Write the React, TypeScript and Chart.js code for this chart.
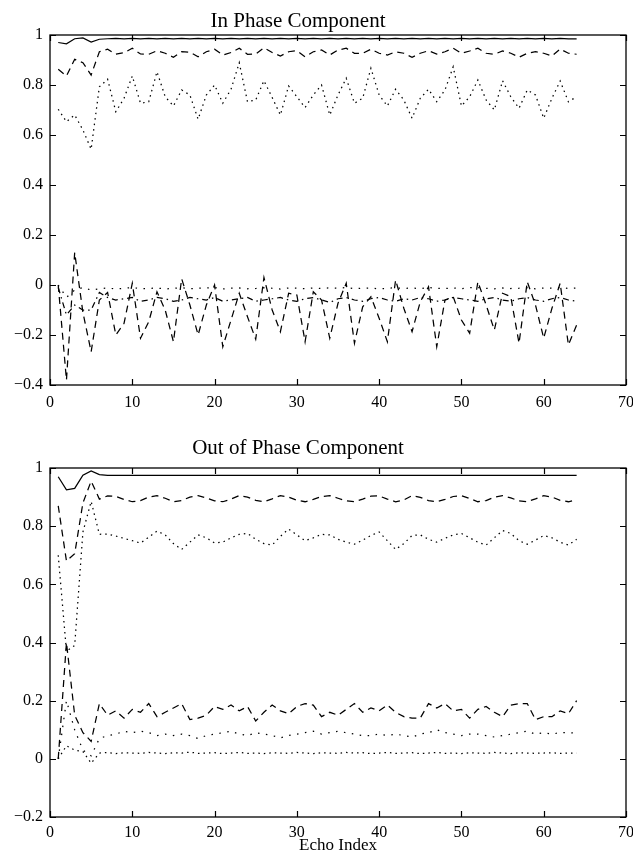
import React, { useEffect, useRef } from "react";
import { Chart, registerables } from "chart.js";

Chart.register(...registerables);

// ---------------- data ----------------
const echoIndex = [
  1, 2, 3, 4, 5, 6, 7, 8, 9, 10, 11, 12, 13, 14, 15, 16, 17, 18, 19, 20, 21, 22, 23, 24, 25, 26, 27, 28, 29, 30, 31, 32,
  33, 34, 35, 36, 37, 38, 39, 40, 41, 42, 43, 44, 45, 46, 47, 48, 49, 50, 51, 52, 53, 54, 55, 56, 57, 58, 59, 60, 61, 62, 63, 64,
];

const xTicks = { min: 0, max: 70, step: 10 };
const inPhaseYTicks = { min: -0.4, max: 1, step: 0.2 };
const outPhaseYTicks = { min: -0.2, max: 1, step: 0.2 };

// In phase component
const inSolid = [
  0.97, 0.965, 0.985, 0.988, 0.972, 0.983, 0.985, 0.986, 0.985, 0.986, 0.985, 0.986, 0.985, 0.986, 0.985, 0.986,
  0.985, 0.986, 0.985, 0.986, 0.985, 0.986, 0.985, 0.986, 0.985, 0.986, 0.985, 0.986, 0.985, 0.986, 0.985, 0.986,
  0.985, 0.986, 0.985, 0.986, 0.985, 0.986, 0.985, 0.986, 0.985, 0.986, 0.985, 0.986, 0.985, 0.986, 0.985, 0.986,
  0.985, 0.986, 0.985, 0.986, 0.985, 0.986, 0.985, 0.986, 0.985, 0.986, 0.985, 0.986, 0.985, 0.986, 0.985, 0.985,
];
const inDashed = [
  0.863, 0.836, 0.903, 0.889, 0.84, 0.933, 0.943, 0.923, 0.929, 0.947, 0.924, 0.923, 0.937, 0.927, 0.911, 0.933,
  0.931, 0.913, 0.933, 0.943, 0.92, 0.93, 0.947, 0.923, 0.924, 0.949, 0.93, 0.916, 0.933, 0.937, 0.913, 0.933,
  0.94, 0.92, 0.94, 0.947, 0.927, 0.927, 0.943, 0.927, 0.92, 0.933, 0.927, 0.911, 0.927, 0.937, 0.924, 0.933,
  0.947, 0.927, 0.936, 0.947, 0.927, 0.923, 0.936, 0.927, 0.911, 0.927, 0.933, 0.927, 0.916, 0.944, 0.927, 0.923,
];
const inDotted = [
  0.703, 0.653, 0.68, 0.62, 0.543, 0.793, 0.823, 0.693, 0.747, 0.836, 0.727, 0.733, 0.853, 0.753, 0.716, 0.78,
  0.76, 0.663, 0.76, 0.8, 0.727, 0.783, 0.889, 0.733, 0.74, 0.817, 0.75, 0.68, 0.796, 0.753, 0.71, 0.76,
  0.8, 0.68, 0.76, 0.827, 0.727, 0.747, 0.867, 0.76, 0.716, 0.783, 0.74, 0.667, 0.747, 0.783, 0.733, 0.78,
  0.873, 0.716, 0.753, 0.82, 0.74, 0.7, 0.817, 0.753, 0.707, 0.78, 0.76, 0.667, 0.747, 0.816, 0.733, 0.753,
];
const inLowDotted = [
  0.0, -0.05, -0.02, -0.01, -0.02, -0.015, -0.012, -0.016, -0.013, -0.01, -0.015, -0.014, -0.012, -0.016, -0.013, -0.011,
  -0.015, -0.013, -0.012, -0.01, -0.016, -0.013, -0.012, -0.015, -0.014, -0.011, -0.013, -0.016, -0.012, -0.013, -0.015, -0.012,
  -0.014, -0.011, -0.013, -0.01, -0.015, -0.013, -0.012, -0.016, -0.013, -0.011, -0.014, -0.012, -0.015, -0.01, -0.013, -0.014,
  -0.012, -0.015, -0.011, -0.01, -0.013, -0.015, -0.012, -0.014, -0.013, -0.011, -0.015, -0.012, -0.013, -0.01, -0.014, -0.012,
];
const inLowDashDot = [
  -0.01, -0.12, -0.08, -0.1, -0.1, -0.03, -0.05, -0.06, -0.055, -0.05, -0.065, -0.06, -0.05, -0.055, -0.065, -0.06,
  -0.05, -0.055, -0.06, -0.05, -0.065, -0.06, -0.055, -0.05, -0.065, -0.06, -0.055, -0.05, -0.06, -0.065, -0.055, -0.05,
  -0.06, -0.07, -0.055, -0.05, -0.06, -0.065, -0.055, -0.05, -0.06, -0.065, -0.055, -0.06, -0.05, -0.055, -0.065, -0.06,
  -0.05, -0.055, -0.06, -0.065, -0.055, -0.05, -0.06, -0.065, -0.055, -0.05, -0.06, -0.065, -0.055, -0.05, -0.06, -0.065,
];
const inLowDashed = [
  0.0, -0.38, 0.13, -0.11, -0.267, -0.06, -0.03, -0.2, -0.153, 0.007, -0.213, -0.147, -0.027, -0.1, -0.227, 0.025,
  -0.08, -0.2, -0.08, 0.0, -0.247, -0.14, -0.033, -0.127, -0.217, 0.03, -0.1, -0.187, -0.033, -0.04, -0.227, -0.027,
  -0.06, -0.213, -0.073, 0.007, -0.233, -0.087, -0.047, -0.133, -0.227, 0.02, -0.093, -0.187, -0.067, -0.007, -0.247, -0.06,
  -0.047, -0.14, -0.193, 0.013, -0.08, -0.18, -0.033, -0.047, -0.233, 0.013, -0.08, -0.213, -0.093, 0.007, -0.24, -0.16,
];

// Out of phase component
const outSolid = [
  0.97, 0.925, 0.93, 0.975, 0.99, 0.977, 0.975, 0.975, 0.975, 0.975, 0.975, 0.975, 0.975, 0.975, 0.975, 0.975,
  0.975, 0.975, 0.975, 0.975, 0.975, 0.975, 0.975, 0.975, 0.975, 0.975, 0.975, 0.975, 0.975, 0.975, 0.975, 0.975,
  0.975, 0.975, 0.975, 0.975, 0.975, 0.975, 0.975, 0.975, 0.975, 0.975, 0.975, 0.975, 0.975, 0.975, 0.975, 0.975,
  0.975, 0.975, 0.975, 0.975, 0.975, 0.975, 0.975, 0.975, 0.975, 0.975, 0.975, 0.975, 0.975, 0.975, 0.975, 0.975,
];
const outDashed = [
  0.87, 0.68, 0.705, 0.88, 0.955, 0.893, 0.904, 0.902, 0.892, 0.884, 0.888, 0.9, 0.905, 0.896, 0.884, 0.888,
  0.9, 0.905, 0.897, 0.887, 0.884, 0.893, 0.905, 0.9, 0.889, 0.884, 0.894, 0.905, 0.9, 0.889, 0.884, 0.892,
  0.902, 0.905, 0.896, 0.887, 0.884, 0.893, 0.903, 0.904, 0.893, 0.884, 0.89, 0.905, 0.899, 0.888, 0.884, 0.892,
  0.902, 0.905, 0.895, 0.884, 0.888, 0.9, 0.905, 0.897, 0.887, 0.884, 0.894, 0.905, 0.9, 0.889, 0.884, 0.891,
];
const outDotted = [
  0.7, 0.37, 0.39, 0.78, 0.885, 0.772, 0.773, 0.766, 0.758, 0.75, 0.742, 0.762, 0.783, 0.77, 0.74, 0.72,
  0.745, 0.77, 0.76, 0.742, 0.745, 0.76, 0.772, 0.775, 0.755, 0.74, 0.735, 0.765, 0.79, 0.77, 0.75, 0.76,
  0.772, 0.77, 0.755, 0.745, 0.738, 0.752, 0.768, 0.78, 0.75, 0.72, 0.74, 0.768, 0.77, 0.755, 0.745, 0.758,
  0.77, 0.775, 0.76, 0.745, 0.735, 0.76, 0.785, 0.775, 0.75, 0.738, 0.752, 0.768, 0.76, 0.745, 0.735, 0.755,
];
const outLowDashed = [
  0.0, 0.4, 0.15, 0.09, 0.06, 0.19, 0.15, 0.165, 0.14, 0.17, 0.16, 0.19, 0.145, 0.16, 0.175, 0.19,
  0.135, 0.14, 0.15, 0.18, 0.17, 0.185, 0.165, 0.18, 0.13, 0.16, 0.185, 0.165, 0.155, 0.18, 0.19, 0.185,
  0.145, 0.16, 0.15, 0.17, 0.19, 0.16, 0.175, 0.165, 0.185, 0.16, 0.145, 0.14, 0.14, 0.19, 0.175, 0.19,
  0.165, 0.17, 0.14, 0.17, 0.18, 0.16, 0.145, 0.185, 0.19, 0.19, 0.135, 0.145, 0.145, 0.165, 0.155, 0.2,
];
const outLowDotted = [
  0.0, 0.2, 0.1, 0.03, 0.01, 0.07, 0.08, 0.085, 0.095, 0.09, 0.095, 0.09, 0.08, 0.085, 0.08, 0.085,
  0.08, 0.07, 0.08, 0.085, 0.09, 0.095, 0.085, 0.08, 0.09, 0.085, 0.08, 0.072, 0.08, 0.085, 0.09, 0.095,
  0.085, 0.09, 0.095, 0.09, 0.085, 0.08, 0.08, 0.085, 0.08, 0.085, 0.08, 0.075, 0.085, 0.09, 0.1, 0.09,
  0.085, 0.08, 0.085, 0.085, 0.08, 0.075, 0.08, 0.085, 0.09, 0.095, 0.085, 0.09, 0.085, 0.09, 0.09, 0.088,
];
const outLowDotted2 = [
  0.0, 0.045, 0.03, 0.025, -0.015, 0.02, 0.022, 0.018, 0.021, 0.02, 0.019, 0.022, 0.02, 0.018, 0.021, 0.02,
  0.023, 0.019, 0.02, 0.021, 0.018, 0.02, 0.022, 0.019, 0.02, 0.018, 0.021, 0.02, 0.019, 0.022, 0.02, 0.018,
  0.021, 0.02, 0.019, 0.022, 0.02, 0.021, 0.018, 0.02, 0.022, 0.019, 0.02, 0.021, 0.018, 0.02, 0.022, 0.019,
  0.02, 0.018, 0.021, 0.02, 0.019, 0.022, 0.02, 0.018, 0.021, 0.02, 0.019, 0.02, 0.021, 0.019, 0.02, 0.02,
];

// ---------------- styling ----------------
const FONT = "'Liberation Serif', 'Times New Roman', Times, serif";
const SOLID: number[] = [];
const DASHED = [7, 5];
const DOTTED = [1.5, 4];
const DOTTED_SPARSE = [1.5, 6.5];
const DASHDOT = [6, 4, 1.5, 4];

type Series = { values: number[]; dash: number[] };

const fmtY = (v: number) => {
  const r = Math.round(v * 10) / 10;
  if (r === 0) return "0";
  return r < 0 ? "\u2212" + String(Math.abs(r)) : String(r);
};

const boxPlugin = {
  id: "matlabBox",
  afterDraw(chart: any) {
    const { ctx, chartArea: a, scales } = chart;
    const tl = 6;
    ctx.save();
    ctx.strokeStyle = "#000";
    ctx.lineWidth = 1.3;
    ctx.strokeRect(a.left, a.top, a.right - a.left, a.bottom - a.top);
    ctx.lineWidth = 1.2;
    ctx.beginPath();
    scales.x.ticks.forEach((t: any) => {
      const px = Math.round(scales.x.getPixelForValue(t.value)) + 0.5;
      ctx.moveTo(px, a.bottom);
      ctx.lineTo(px, a.bottom - tl);
      ctx.moveTo(px, a.top);
      ctx.lineTo(px, a.top + tl);
    });
    scales.y.ticks.forEach((t: any) => {
      const py = Math.round(scales.y.getPixelForValue(t.value)) + 0.5;
      ctx.moveTo(a.left, py);
      ctx.lineTo(a.left + tl, py);
      ctx.moveTo(a.right, py);
      ctx.lineTo(a.right - tl, py);
    });
    ctx.stroke();
    ctx.restore();
  },
};

const makeTitlePlugin = (text: string, cx: number, cy: number) => ({
  id: "plotTitle",
  afterDraw(chart: any) {
    const { ctx } = chart;
    ctx.save();
    ctx.fillStyle = "#000";
    ctx.font = `21px ${FONT}`;
    ctx.textAlign = "center";
    ctx.textBaseline = "middle";
    ctx.fillText(text, cx, cy);
    ctx.restore();
  },
});

function makeConfig(
  title: string,
  series: Series[],
  yT: { min: number; max: number; step: number },
  opts: { areaTop: number; xHeight: number; xPad: number; titleY: number; xTitle?: string }
): any {
  return {
    type: "line",
    data: {
      datasets: series.map((s) => ({
        data: s.values.map((v, i) => ({ x: echoIndex[i], y: v })),
        borderColor: "#000",
        borderWidth: 1.25,
        borderDash: s.dash,
        pointRadius: 0,
        fill: false,
        tension: 0,
      })),
    },
    options: {
      responsive: false,
      animation: false,
      events: [],
      layout: { padding: { left: 0, right: 7, top: opts.areaTop, bottom: 0 } },
      plugins: {
        legend: { display: false },
        tooltip: { enabled: false },
        title: { display: false },
      },
      scales: {
        x: {
          type: "linear",
          min: xTicks.min,
          max: xTicks.max,
          grid: { display: false, drawTicks: false },
          border: { display: false },
          ticks: {
            stepSize: xTicks.step,
            color: "#000",
            font: { family: FONT, size: 16 },
            padding: opts.xPad,
            maxRotation: 0,
          },
          title: opts.xTitle
            ? {
                display: true,
                text: opts.xTitle,
                color: "#000",
                font: { family: FONT, size: 17 },
                padding: { top: 0, bottom: 0 },
              }
            : { display: false },
          afterFit: (s: any) => {
            s.height = opts.xHeight;
            s.paddingLeft = 0;
            s.paddingRight = 0;
          },
        },
        y: {
          type: "linear",
          min: yT.min,
          max: yT.max,
          grid: { display: false, drawTicks: false },
          border: { display: false },
          ticks: {
            stepSize: yT.step,
            color: "#000",
            font: { family: FONT, size: 16 },
            padding: 7,
            callback: (v: number) => fmtY(v),
          },
          afterFit: (s: any) => {
            s.width = 50;
            s.paddingTop = 0;
            s.paddingBottom = 0;
          },
        },
      },
    },
    plugins: [boxPlugin, makeTitlePlugin(title, 298, opts.titleY)],
  };
}

function ChartBox(props: { config: any; top: number; height: number }) {
  const ref = useRef<HTMLCanvasElement | null>(null);
  useEffect(() => {
    if (!ref.current) return;
    const chart = new Chart(ref.current, props.config);
    return () => chart.destroy();
  }, []);
  return (
    <canvas
      ref={ref}
      width={633}
      height={props.height}
      style={{ position: "absolute", left: 0, top: props.top, width: 633, height: props.height }}
    />
  );
}

export default function App() {
  const topSeries: Series[] = [
    { values: inSolid, dash: SOLID },
    { values: inDashed, dash: DASHED },
    { values: inDotted, dash: DOTTED },
    { values: inLowDotted, dash: DOTTED_SPARSE },
    { values: inLowDashDot, dash: DASHDOT },
    { values: inLowDashed, dash: DASHED },
  ];
  const bottomSeries: Series[] = [
    { values: outSolid, dash: SOLID },
    { values: outDashed, dash: DASHED },
    { values: outDotted, dash: DOTTED },
    { values: outLowDashed, dash: DASHED },
    { values: outLowDotted, dash: DOTTED_SPARSE },
    { values: outLowDotted2, dash: DOTTED },
  ];
  const topCfg = makeConfig("In Phase Component", topSeries, inPhaseYTicks, {
    areaTop: 35,
    xHeight: 43,
    xPad: 8,
    titleY: 21,
  });
  const bottomCfg = makeConfig("Out of Phase Component", bottomSeries, outPhaseYTicks, {
    areaTop: 40,
    xHeight: 39,
    xPad: 6,
    titleY: 20,
    xTitle: "Echo Index",
  });
  return (
    <div style={{ position: "absolute", left: 0, top: 0, width: 633, height: 856, background: "#fff" }}>
      <ChartBox config={topCfg} top={0} height={428} />
      <ChartBox config={bottomCfg} top={428} height={428} />
    </div>
  );
}
